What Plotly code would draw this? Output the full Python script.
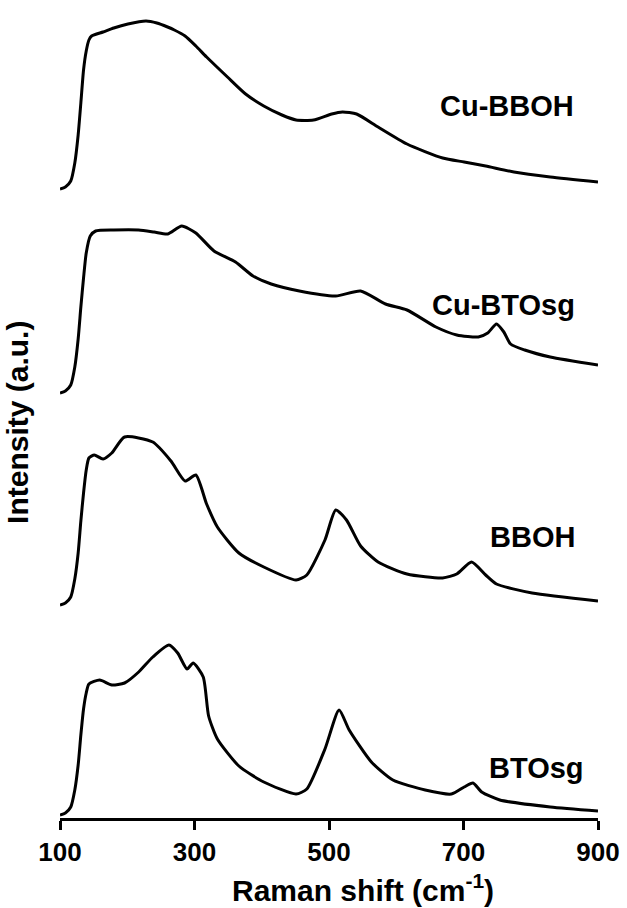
import plotly.graph_objects as go

# ---- data ----
names = ["BTOsg", "BBOH", "Cu-BTOsg", "Cu-BBOH"]
offsets = [0.03, 2.13, 4.25, 6.29]

wn_cubboh = [100, 108, 116, 122, 127, 131, 135, 139, 143, 147, 164, 180, 201, 228, 244, 260, 270, 286, 302, 318,
             349, 376, 403, 430, 451, 477, 504, 520, 541, 573, 616, 669, 701, 733, 775, 829, 900]
int_cubboh = [0, 0.02, 0.08, 0.26, 0.54, 0.86, 1.19, 1.38, 1.49, 1.53, 1.57, 1.61, 1.65, 1.68, 1.66, 1.62, 1.59,
              1.53, 1.43, 1.32, 1.12, 0.95, 0.83, 0.74, 0.69, 0.69, 0.75, 0.77, 0.75, 0.62, 0.45, 0.31, 0.27,
              0.23, 0.17, 0.12, 0.07]

wn_cubtosg = [100, 108, 116, 122, 127, 131, 135, 139, 145, 153, 180, 217, 240, 260, 281, 302, 329, 361, 387, 414,
              456, 510, 547, 584, 616, 659, 690, 722, 736, 749, 760, 770, 791, 829, 900]
int_cubtosg = [0, 0.02, 0.08, 0.26, 0.54, 0.86, 1.15, 1.40, 1.57, 1.62, 1.63, 1.63, 1.61, 1.59, 1.67, 1.60,
               1.42, 1.31, 1.17, 1.09, 1.02, 0.97, 1.02, 0.89, 0.83, 0.66, 0.58, 0.56, 0.60, 0.69, 0.61, 0.49,
               0.43, 0.36, 0.28]

wn_bboh = [100, 108, 116, 122, 127, 131, 135, 139, 143, 151, 164, 177, 196, 238, 265, 286, 302, 318, 334, 366,
           403, 451, 467, 494, 510, 526, 547, 573, 616, 669, 690, 712, 733, 749, 802, 900]
int_bboh = [0, 0.02, 0.08, 0.26, 0.52, 0.84, 1.12, 1.35, 1.47, 1.50, 1.46, 1.52, 1.68, 1.63, 1.44, 1.24, 1.30,
            1.01, 0.78, 0.52, 0.38, 0.25, 0.30, 0.65, 0.95, 0.85, 0.59, 0.43, 0.31, 0.27, 0.31, 0.43, 0.30,
            0.21, 0.12, 0.04]

wn_btosg = [100, 108, 116, 122, 127, 131, 135, 139, 143, 159, 177, 196, 217, 238, 262, 275, 289, 298, 313, 321,
            334, 366, 403, 451, 467, 494, 515, 530, 563, 595, 643, 682, 701, 714, 727, 754, 829, 900]
int_btosg = [0, 0.02, 0.08, 0.25, 0.50, 0.80, 1.06, 1.22, 1.31, 1.35, 1.30, 1.32, 1.43, 1.58, 1.70, 1.62, 1.46,
             1.52, 1.38, 0.99, 0.76, 0.49, 0.33, 0.21, 0.26, 0.66, 1.05, 0.85, 0.53, 0.35, 0.25, 0.21, 0.28,
             0.32, 0.23, 0.15, 0.08, 0.04]

label_x = [808, 802, 759, 765]
label_y = [0.50, 2.81, 5.13, 7.12]

x_ticks = [100, 300, 500, 700, 900]

series_x = [wn_btosg, wn_bboh, wn_cubtosg, wn_cubboh]
series_y = [int_btosg, int_bboh, int_cubtosg, int_cubboh]

FONT = "Liberation Sans, Arial, sans-serif"

fig = go.Figure()
for nm, xs, ys, off in zip(names, series_x, series_y, offsets):
    fig.add_trace(go.Scatter(
        x=xs, y=[v + off for v in ys], mode="lines", name=nm,
        line=dict(color="black", width=3, shape="spline", smoothing=0.6),
        showlegend=False, hoverinfo="skip"))

for nm, lx, ly in zip(names, label_x, label_y):
    fig.add_annotation(x=lx, y=ly, xref="x", yref="y", text="<b>%s</b>" % nm,
                       showarrow=False, font=dict(family=FONT, size=29, color="black"))

fig.add_annotation(x=-0.078, y=0.483, xref="paper", yref="paper", text="<b>Intensity (a.u.)</b>",
                   textangle=-90, showarrow=False, xanchor="center", yanchor="middle",
                   font=dict(family=FONT, size=30, color="black"))
fig.add_annotation(x=0.563, y=-0.060, xref="paper", yref="paper",
                   text="<b>Raman shift (cm<sup>-1</sup>)</b>", xanchor="center", yanchor="top",
                   showarrow=False, font=dict(family=FONT, size=30, color="black"))

fig.update_layout(
    width=627, height=908,
    margin=dict(l=60, r=29, t=0, b=90),
    plot_bgcolor="white", paper_bgcolor="white",
    xaxis=dict(range=[100, 900], tickvals=x_ticks, ticktext=[str(t) for t in x_ticks],
               showgrid=False, zeroline=False, showline=True, linecolor="black", linewidth=2.5,
               ticks="outside", ticklen=9, tickwidth=2.5, tickcolor="black",
               tickfont=dict(family=FONT, size=26, color="black", weight="bold")),
    yaxis=dict(range=[0, 8.18], visible=False, showgrid=False, zeroline=False),
)

fig.write_html("out.html")
